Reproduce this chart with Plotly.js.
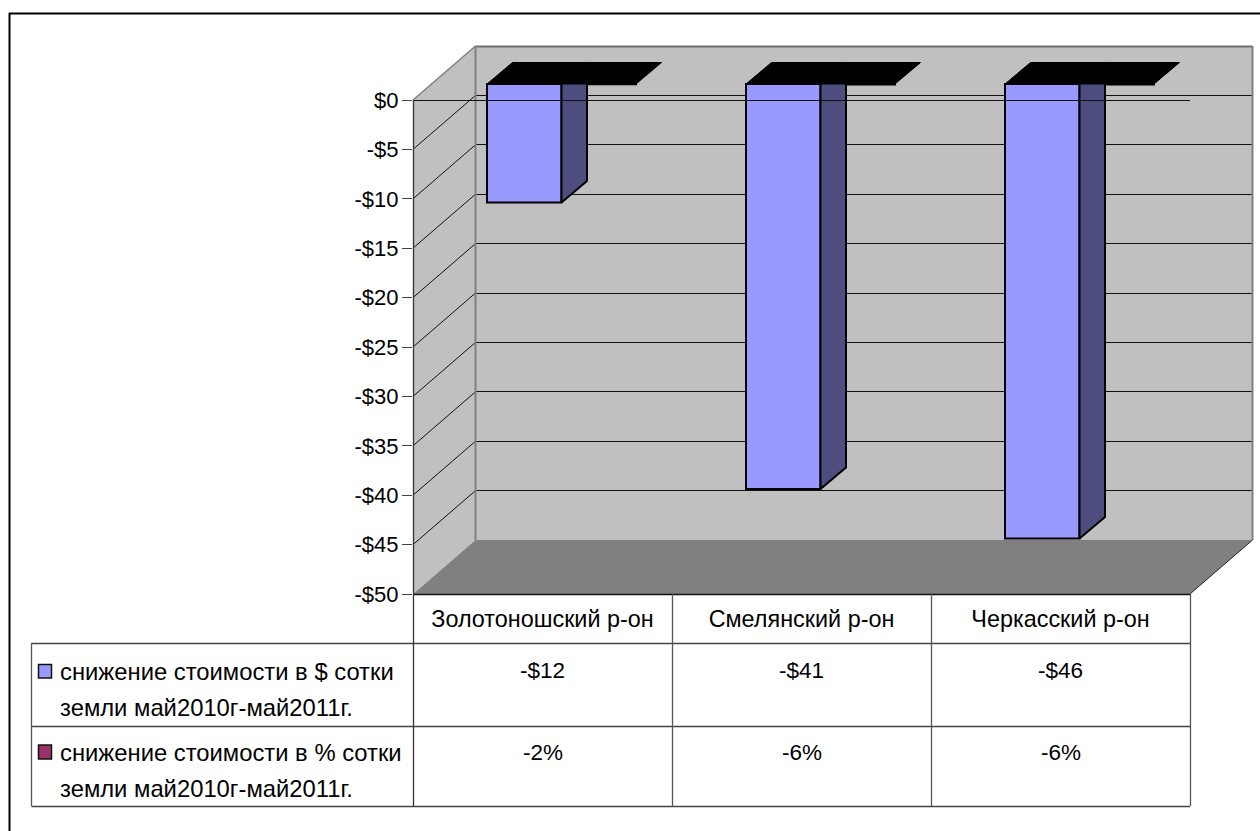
<!DOCTYPE html>
<html><head><meta charset="utf-8">
<script src="https://cdn.plot.ly/plotly-3.0.1.min.js"></script>
<style>html,body{margin:0;padding:0;background:#fff;overflow:hidden}</style>
</head><body><div id="chart" style="width:1260px;height:831px"></div>
<script>
const categories = ['Золотоношский р-он', 'Смелянский р-он', 'Черкасский р-он'];
const seriesDollar = [-12, -41, -46];
const seriesPercent = [-0.02, -0.06, -0.06];
const yTicks = [0, -5, -10, -15, -20, -25, -30, -35, -40, -45, -50];
const yTickLabels = ['$0', '-$5', '-$10', '-$15', '-$20', '-$25', '-$30', '-$35', '-$40', '-$45', '-$50'];
const dollarLegend = ['снижение стоимости в $ сотки', 'земли май2010г-май2011г.'];
const percentLegend = ['снижение стоимости в % сотки', 'земли май2010г-май2011г.'];

const W = 1260, H = 831;
const FONT = '"Liberation Sans", Arial, sans-serif';
const TICK_SIZE = 22, VALUE_SIZE = 22.5, CAT_SIZE = 23.4, LEG_SIZE = 23.8;
const left = 413, right = 1190, top0 = 100, bottom = 594;   // front plane
const depthX = 62.5, depthY = 54;                           // wall depth
const barShiftX = 19, barShiftY = 16;                       // bars sit inside the box
const barDepthX = 25.5, barDepthY = 21.5;                   // bar depth
const unitX = (right - left) / categories.length;
const unitY = (bottom - top0) / 50;
const groupWidth = 149 / unitX;

const px = x => x / W, py = y => 1 - y / H;
const poly = pts => 'M' + pts.map(p => px(p[0]) + ',' + py(p[1])).join('L') + 'Z';
const snap = v => Math.floor(v) + 0.5;
const shapes = [];
function fillPoly(pts, fill, layer) {
  shapes.push({type: 'path', xref: 'paper', yref: 'paper', path: poly(pts), fillcolor: fill, line: {width: 0}, layer: layer || 'below'});
}
function seg(x0, y0, x1, y1, color, width, layer) {
  if (y0 === y1) { y0 = y1 = snap(y0); }
  if (x0 === x1) { x0 = x1 = snap(x0); }
  shapes.push({type: 'line', xref: 'paper', yref: 'paper', x0: px(x0), y0: py(y0), x1: px(x1), y1: py(y1),
    line: {color: color, width: width}, layer: layer || 'below'});
}
const bx = left + depthX, tb = top0 - depthY, bb = bottom - depthY, rb = right + depthX;
// outer frame
seg(9, 13, W, 13, '#000', 2, 'below');
seg(9, 13, 9, H, '#000', 2, 'below');
// walls and floor
fillPoly([[bx, tb], [rb, tb], [rb, bb], [bx, bb]], '#c0c0c0');
fillPoly([[left, top0], [bx, tb], [bx, bb], [left, bottom]], '#c0c0c0');
fillPoly([[left, bottom], [bx, bb], [rb, bb], [right, bottom]], '#808080');
// gridlines
const yPix = v => top0 - v * unitY;
yTicks.forEach(v => {
  if (v === 0 || v === -50) return;
  seg(left, yPix(v), bx, yPix(v) - depthY, '#111', 1);
  seg(bx, yPix(v) - depthY, rb, yPix(v) - depthY, '#111', 1);
});
seg(left, top0, bx, tb, '#808080', 1.5);
seg(bx, tb, rb, tb, '#6e6e6e', 2);
seg(bx, tb, bx, bb, '#808080', 2);
seg(rb, tb, rb, bb, '#808080', 2);
seg(right, bottom, rb, bb, '#222', 1);
// front zero line crosses the bars
seg(left, top0, right, top0, '#111', 1, 'above');
// data table grid
const tableTop = 643, tableMid = 726, tableBottom = 806, tableLeft = 31.5;
seg(left, bottom, right, bottom, '#111', 1.5, 'above');
[tableTop, tableMid, tableBottom].forEach(y => seg(tableLeft, y, right, y, '#444', 1.3, 'above'));
seg(tableLeft, tableTop, tableLeft, tableBottom, '#555', 1.3, 'above');
categories.forEach((c, i) => seg(left + (i + 1) * unitX, bottom, left + (i + 1) * unitX, tableBottom, '#555', 1.3, 'above'));
seg(left, top0, left, tableBottom, '#333', 1.3, 'above');
// legend swatches
function swatch(y0, y1, fill) {
  shapes.push({type: 'rect', xref: 'paper', yref: 'paper', x0: px(38.5), x1: px(51.5), y0: py(y0), y1: py(y1),
    fillcolor: fill, line: {color: '#111', width: 1.5}, layer: 'above'});
}
swatch(664.5, 678, '#9999ff');
swatch(745, 759, '#993366');

// table text
const annotations = [];
function label(x, y, text, xanchor, size) {
  annotations.push({xref: 'paper', yref: 'paper', x: px(x), y: py(y), text: text, showarrow: false,
    xanchor: xanchor, yanchor: 'middle', font: {family: FONT, size: size, color: '#000'}, borderpad: 0, borderwidth: 0});
}
label(60, 671, dollarLegend[0], 'left', LEG_SIZE);
label(60, 707, dollarLegend[1], 'left', LEG_SIZE);
label(60, 752, percentLegend[0], 'left', LEG_SIZE);
label(60, 788, percentLegend[1], 'left', LEG_SIZE);
const idx = categories.map((c, i) => i);
idx.forEach(i => {
  const cx = left + (i + 0.5) * unitX;
  label(cx, 670, '-$' + Math.abs(seriesDollar[i]), 'center', VALUE_SIZE);
  label(cx, 752, Math.round(seriesPercent[i] * 100) + '%', 'center', VALUE_SIZE);
});

// data traces
const common = {xaxis: 'x2', yaxis: 'y2', hoverinfo: 'skip', showlegend: false};
const ddx = barDepthX / unitX, ddy = barDepthY / unitY;
const traces = [
  // host trace for the front-plane axes
  {type: 'scatter', x: categories, y: seriesDollar, mode: 'none', xaxis: 'x', yaxis: 'y', hoverinfo: 'skip', showlegend: false},
  Object.assign({type: 'bar', x: idx, y: seriesDollar, marker: {color: '#9999ff', line: {color: '#000', width: 2}}}, common),
  Object.assign({type: 'bar', x: idx, y: seriesPercent, marker: {color: '#993366', line: {color: '#000', width: 2}}}, common)
];
idx.forEach(i => {
  const v = seriesDollar[i];
  traces.push(Object.assign({type: 'scatter', mode: 'lines', fill: 'toself', fillcolor: '#4d4d80',
    line: {color: '#000', width: 2},
    x: [i, i + ddx, i + ddx, i, i], y: [0, ddy, v + ddy, v, 0]}, common));
  traces.push(Object.assign({type: 'scatter', mode: 'lines', fill: 'toself', fillcolor: '#000',
    line: {color: '#000', width: 1},
    x: [i - groupWidth / 2, i - groupWidth / 2 + ddx, i + groupWidth / 2 + ddx, i + groupWidth / 2, i - groupWidth / 2],
    y: [0, ddy, ddy, 0, 0]}, common));
});

const topExtra = 3;
const layout = {
  width: W, height: H, margin: {l: 0, r: 0, t: 0, b: 0}, paper_bgcolor: '#fff', plot_bgcolor: 'rgba(0,0,0,0)',
  showlegend: false, shapes: shapes, annotations: annotations,
  font: {family: FONT, size: TICK_SIZE, color: '#000'},
  bargap: 1 - groupWidth, bargroupgap: 0, barmode: 'group',
  xaxis: {domain: [px(left), px(right)], type: 'category', categories: categories, range: [-0.5, 2.5], fixedrange: true,
    showgrid: false, zeroline: false, showline: false, ticks: '', ticklabelstandoff: 9,
    tickfont: {family: FONT, size: CAT_SIZE, color: '#000'}, anchor: 'y'},
  yaxis: {domain: [py(bottom), py(top0)], range: [-50, 0], fixedrange: true, tickmode: 'array',
    tickvals: yTicks, ticktext: yTickLabels, ticks: 'outside', ticklen: 10, tickwidth: 1, tickcolor: '#444',
    showgrid: false, zeroline: false, showline: false, ticklabelstandoff: -1,
    tickfont: {family: FONT, size: TICK_SIZE, color: '#000'}, anchor: 'x'},
  xaxis2: {domain: [px(left + barShiftX), px(right + barShiftX)], range: [-0.5, 2.5], visible: false, fixedrange: true, anchor: 'y2'},
  yaxis2: {domain: [py(bottom - barShiftY), py(top0 - barShiftY - topExtra * unitY)], range: [-50, topExtra], visible: false, fixedrange: true, anchor: 'x2'}
};
Plotly.newPlot('chart', traces, layout, {staticPlot: true, displayModeBar: false});
</script></body></html>
